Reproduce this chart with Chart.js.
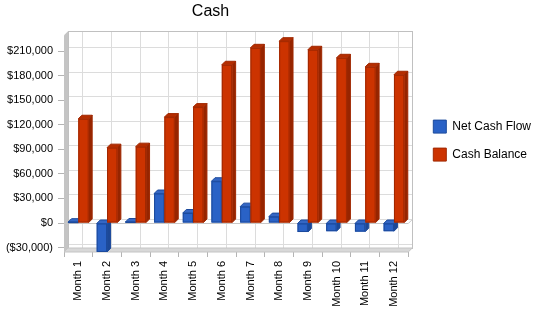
<!DOCTYPE html>
<html>
<head>
<meta charset="utf-8">
<script src="https://cdn.jsdelivr.net/npm/chart.js@4.4.1/dist/chart.umd.min.js"></script>
<style>
  html, body { margin: 0; padding: 0; background: #fff; }
  #wrap { width: 550px; height: 318px; }
</style>
</head>
<body>
<div id="wrap"><canvas id="cash"></canvas></div>
<script>
const months = ["Month 1", "Month 2", "Month 3", "Month 4", "Month 5", "Month 6",
                "Month 7", "Month 8", "Month 9", "Month 10", "Month 11", "Month 12"];
const netCashFlow = [1000, -35300, 1200, 36000, 12200, 51000, 20000, 7800, -11000, -10000, -10500, -10000];
const cashBalance = [127300, 92000, 93200, 129300, 141500, 193200, 213900, 222000, 211500, 201700, 190700, 181000];
const yTicks = [-30000, 0, 30000, 60000, 90000, 120000, 150000, 180000, 210000];

const FONT = "'Liberation Sans', Arial, sans-serif";
const WALL = 4;   // depth of the back wall
const DEPTH = 3.5; // depth of a bar

const faces = [
  { front: "#2a62c6", edge: "#1c4a9c", top: "#3567c4", side: "#1d4896" },
  { front: "#cc3300", edge: "#a02800", top: "#b52d00", side: "#962500" }
];

function money(v) {
  const s = "$" + Math.abs(v).toLocaleString("en-US");
  return v < 0 ? "(" + s + ")" : s;
}

function poly(ctx, pts, fill, stroke) {
  ctx.beginPath();
  pts.forEach((p, i) => i ? ctx.lineTo(p[0], p[1]) : ctx.moveTo(p[0], p[1]));
  ctx.closePath();
  if (fill) { ctx.fillStyle = fill; ctx.fill(); }
  if (stroke) { ctx.strokeStyle = stroke; ctx.stroke(); }
}

// fake 3D: walls + grid behind, extruded bars in front
const depth = {
  id: "depth",
  afterLayout(chart) {
    // title is centred over the plot + axis, not over the legend
    const t = chart.titleBlock;
    if (t) { t.left = 0; t.right = 421; t.width = 421; }
    const lg = chart.legend;
    if (lg) { lg.top -= 3; lg.bottom -= 3; }
  },
  beforeDatasetsDraw(chart) {
    const { ctx, chartArea: a, scales: { x, y } } = chart;
    const d = WALL;
    ctx.save();
    ctx.lineWidth = 1;
    ctx.strokeStyle = "#dcdcdc";
    ctx.beginPath();
    yTicks.forEach(v => {
      const py = Math.round(y.getPixelForValue(v) - d) + 0.5;
      ctx.moveTo(a.left + d, py); ctx.lineTo(a.right + d, py);
    });
    months.forEach((m, i) => {
      const px = Math.round(x.getPixelForValue(i) + d) + 0.5;
      ctx.moveTo(px, a.top - d); ctx.lineTo(px, a.bottom - d);
    });
    ctx.stroke();
    ctx.strokeStyle = "#c0c0c0";
    ctx.strokeRect(Math.round(a.left + d) + 0.5, Math.round(a.top - d) + 0.5, Math.round(a.width), Math.round(a.height));
    // left wall
    poly(ctx, [[a.left, a.top], [a.left + d, a.top - d], [a.left + d, a.bottom - d], [a.left, a.bottom]], "#c4c4c4");
    // floor
    poly(ctx, [[a.left, a.bottom], [a.left + d, a.bottom - d], [a.right + d, a.bottom - d], [a.right, a.bottom]], "#d8d8d8", "#c4c4c4");
    // zero plane edge
    const y0 = Math.round(y.getPixelForValue(0)) + 0.5;
    ctx.strokeStyle = "#c8c8c8";
    ctx.beginPath();
    ctx.moveTo(a.left, y0); ctx.lineTo(a.right, y0); ctx.lineTo(a.right + d, y0 - d);
    ctx.stroke();
    ctx.restore();
  },
  afterDatasetsDraw(chart) {
    const { ctx, chartArea: a } = chart;
    const d = DEPTH;
    ctx.save();
    ctx.beginPath();
    ctx.rect(a.left, a.top - 10, a.width + 10, a.height + 10);
    ctx.clip();
    ctx.lineWidth = 1;
    months.forEach((m, i) => {
      [0, 1].forEach(ds => {
        const el = chart.getDatasetMeta(ds).data[i];
        if (!el) return;
        const f = faces[ds];
        const l = el.x - el.width / 2, r = el.x + el.width / 2;
        const t = Math.min(el.y, el.base), b = Math.max(el.y, el.base);
        poly(ctx, [[r, t], [r + d, t - d], [r + d, b - d], [r, b]], f.side, f.edge);
        poly(ctx, [[l, t], [l + d, t - d], [r + d, t - d], [r, t]], f.top, f.edge);
        ctx.fillStyle = f.front;
        ctx.fillRect(l, t, r - l, b - t);
        ctx.strokeStyle = f.edge;
        ctx.strokeRect(l + 0.5, t + 0.5, r - l - 1, b - t - 1);
      });
    });
    ctx.restore();
  }
};

new Chart(document.getElementById("cash"), {
  type: "bar",
  data: {
    labels: months,
    datasets: [
      { label: "Net Cash Flow", data: netCashFlow, backgroundColor: faces[0].front, borderColor: faces[0].edge, borderWidth: 1 },
      { label: "Cash Balance", data: cashBalance, backgroundColor: faces[1].front, borderColor: faces[1].edge, borderWidth: 1 }
    ]
  },
  options: {
    responsive: true,
    maintainAspectRatio: false,
    animation: false,
    events: [],
    layout: { padding: { left: 0, right: 9, top: 0, bottom: 0 } },
    datasets: { bar: { barPercentage: 1.0, categoryPercentage: 0.72 } },
    plugins: {
      title: {
        display: true, text: "Cash", color: "#000",
        font: { family: FONT, size: 16, weight: "normal" },
        padding: { top: 2, bottom: 14 }
      },
      legend: {
        position: "right",
        fullSize: false,
        labels: { color: "#000", boxWidth: 13, boxHeight: 13, padding: 15, font: { family: FONT, size: 12 } }
      },
      tooltip: { enabled: false }
    },
    scales: {
      x: {
        grid: { drawOnChartArea: false, drawTicks: true, tickLength: 5, color: "#b4b4b4" },
        border: { display: false },
        ticks: { color: "#000", font: { family: FONT, size: 11 }, minRotation: 90, maxRotation: 90, padding: 4 },
        afterFit(s) { s.height = 66; }
      },
      y: {
        min: -35400,
        max: 229300,
        grid: { drawOnChartArea: false, drawTicks: true, tickLength: 6, color: "#b4b4b4" },
        border: { display: false },
        afterBuildTicks(s) { s.ticks = yTicks.map(v => ({ value: v })); },
        ticks: { color: "#000", font: { family: FONT, size: 11 }, padding: 5, callback: v => money(v) },
        afterFit(s) { s.width = 64; }
      },
      // hidden spacer between the plot and the legend
      gap: {
        position: "right",
        display: false,
        afterFit(s) { s.width = 10; }
      }
    }
  },
  plugins: [depth]
});
</script>
</body>
</html>
